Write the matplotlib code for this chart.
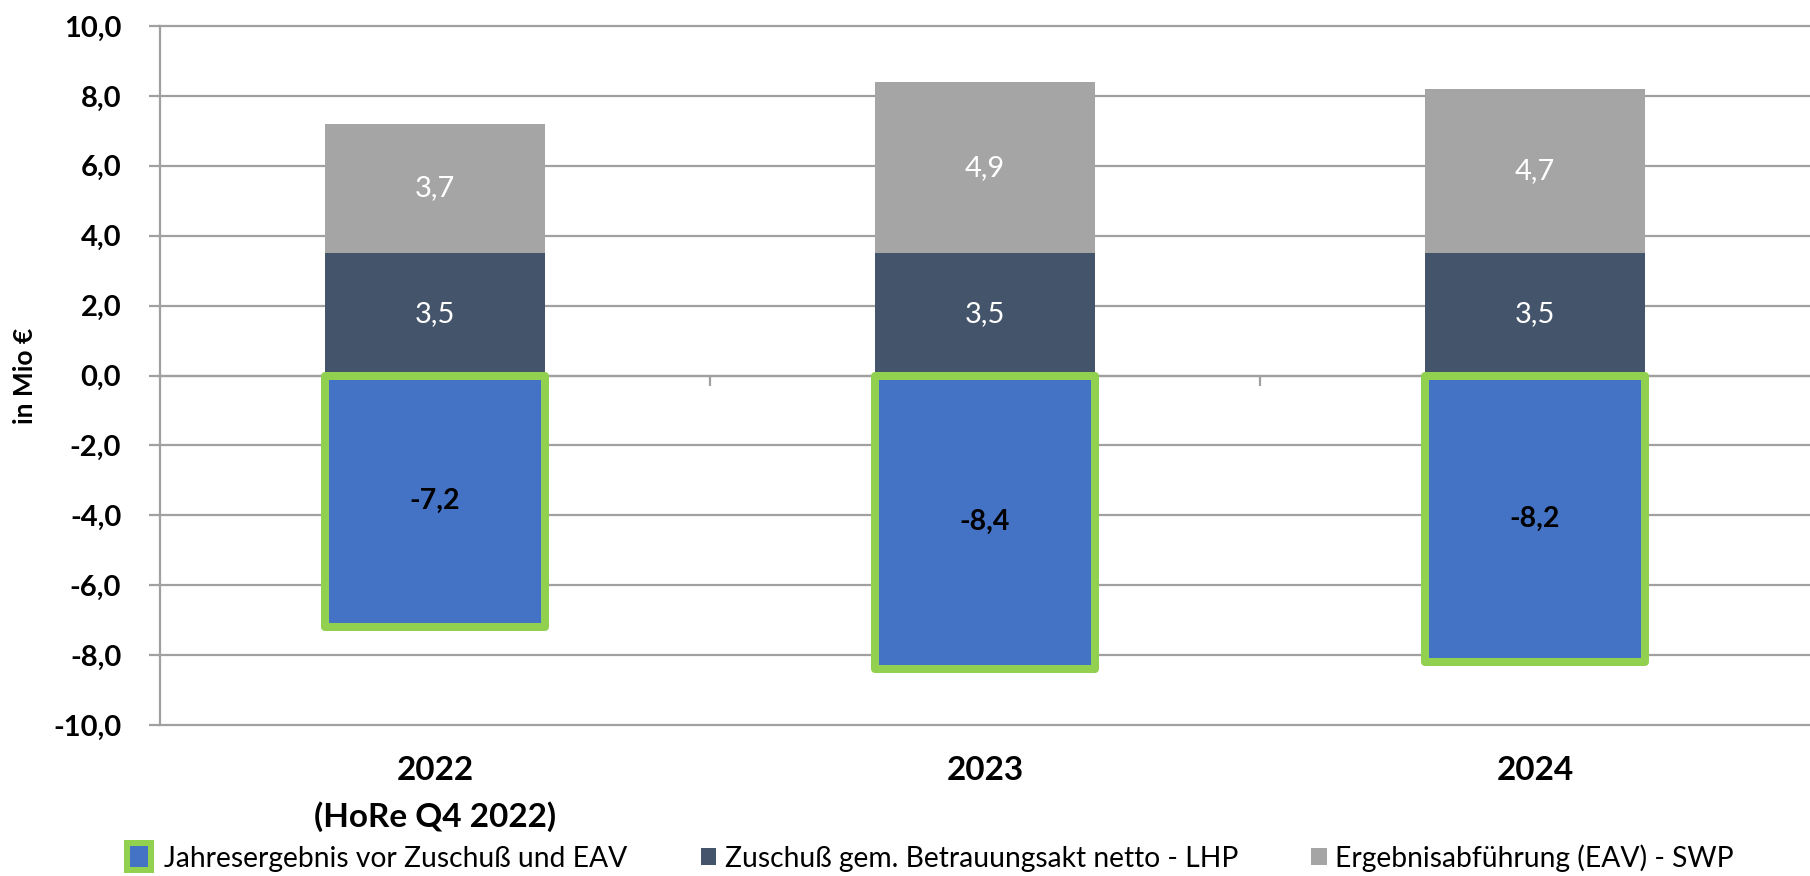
import matplotlib
matplotlib.use("Agg")
import matplotlib.pyplot as plt
import matplotlib.transforms as mtransforms
from matplotlib.patches import Patch, Rectangle
from matplotlib.legend_handler import HandlerPatch
from matplotlib.ticker import FuncFormatter, FixedLocator
import numpy as np

plt.rcParams['font.family'] = ['Lato', 'DejaVu Sans']

# ---- data ----
categories = ["2022\n(HoRe Q4 2022)", "2023", "2024"]
jahresergebnis = [-7.2, -8.4, -8.2]
zuschuss = [3.5, 3.5, 3.5]
ergebnisabfuehrung = [3.7, 4.9, 4.7]
series_names = ["Jahresergebnis vor Zuschuß und EAV",
                "Zuschuß gem. Betrauungsakt netto - LHP",
                "Ergebnisabführung (EAV) - SWP"]
y_ticks = [-10, -8, -6, -4, -2, 0, 2, 4, 6, 8, 10]

c_blue = "#4472C4"
c_green = "#92D050"
c_dark = "#44546A"
c_gray = "#A5A5A5"
c_grid = "#A0A0A0"

def fmt(v):
    return f"{v:.1f}".replace(".", ",")

DPI = 100
fig = plt.figure(figsize=(18.10, 8.76), dpi=DPI)
ax = fig.add_axes([160/1810, 1-725/876, 1-160/1810, (725-26)/876])

x = np.arange(len(categories))
w = 0.4

ax.set_xlim(-0.5, len(categories)-0.5)
ax.set_ylim(-10, 10)

# grid
ax.yaxis.set_major_locator(FixedLocator(y_ticks))
ax.grid(axis='y', color=c_grid, linewidth=1.6, zorder=0)
ax.set_axisbelow(True)
for gl in ax.yaxis.get_gridlines():
    gl.set_clip_on(False)

b_dark = ax.bar(x, zuschuss, w, color=c_dark, zorder=2)
b_gray = ax.bar(x, ergebnisabfuehrung, w, bottom=zuschuss, color=c_gray, zorder=2)
b_neg = ax.bar(x, jahresergebnis, w, color=c_blue, edgecolor=c_green,
               linewidth=8*72/DPI, joinstyle='round', zorder=3)

ax.bar_label(b_dark, labels=[fmt(v) for v in zuschuss], label_type='center',
             color='white', fontsize=21)
ax.bar_label(b_gray, labels=[fmt(v) for v in ergebnisabfuehrung], label_type='center',
             color='white', fontsize=21)
ax.bar_label(b_neg, labels=[fmt(v) for v in jahresergebnis], label_type='center',
             color='black', fontsize=20.5, fontweight='bold')

# spines
for s in ['top', 'right']:
    ax.spines[s].set_visible(False)
ax.spines['left'].set_color(c_grid)
ax.spines['left'].set_linewidth(1.6)
ax.spines['bottom'].set_position(('data', 0))
ax.spines['bottom'].set_color(c_grid)
ax.spines['bottom'].set_linewidth(1.6)

ax.yaxis.set_major_formatter(FuncFormatter(lambda v, p: fmt(v)))
ax.tick_params(axis='y', length=11*72/DPI, width=1.6, color=c_grid, pad=20,
               labelsize=21, labelcolor='black')
for lab in ax.get_yticklabels():
    lab.set_fontweight('bold')

ax.set_xticks(x[:-1] + 0.5)
ax.set_xticklabels([])
ax.tick_params(axis='x', length=10*72/DPI, width=1.6, color=c_grid, direction='out')

ax.set_ylabel("in Mio €", fontsize=19, fontweight='bold')
ax.yaxis.set_label_coords(-0.0745, 0.5)

trans = mtransforms.blended_transform_factory(ax.transData, ax.transAxes)
for xi, cat in zip(x, categories):
    ax.text(xi, -0.045, cat, transform=trans, ha='center', va='top',
            fontsize=24, fontweight='bold', linespacing=1.6, multialignment='center')

# legend
def big_key(legend, orig_handle, xdescent, ydescent, width, height, fontsize):
    pad = 3.5
    return Rectangle((-xdescent - 2.6*pad, -ydescent - pad), width + 1.6*pad, height + 2*pad)

h1 = Patch(facecolor=c_blue, edgecolor=c_green, linewidth=6*72/DPI, joinstyle='round')
h2 = Patch(facecolor=c_dark, edgecolor='none')
h3 = Patch(facecolor=c_gray, edgecolor='none')
leg = ax.legend([h1, h2, h3], series_names, ncol=3, frameon=False,
                loc='center', bbox_to_anchor=(937/1810, 1-858/876),
                bbox_transform=fig.transFigure,
                fontsize=20.3, handlelength=0.55, handleheight=0.55,
                handletextpad=0.3, columnspacing=2.6,
                handler_map={h1: HandlerPatch(patch_func=big_key)})

fig.savefig("out.png", dpi=DPI)
